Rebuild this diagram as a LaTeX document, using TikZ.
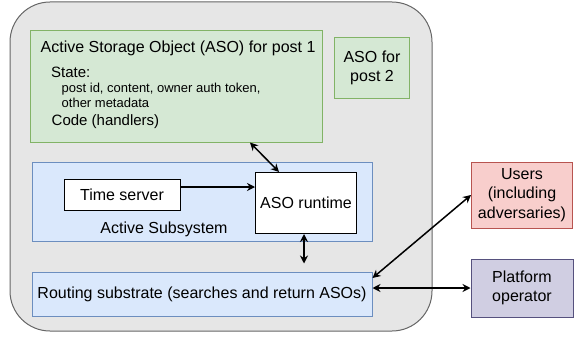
\documentclass[tikz,border=0pt]{standalone}
\usepackage{fontspec}
\setmainfont{Liberation Sans}
\usetikzlibrary{arrows.meta,calc}
\definecolor{outerfill}{HTML}{E6E6E6}
\definecolor{outerdraw}{HTML}{666666}
\definecolor{greenfill}{HTML}{D5E8D4}
\definecolor{greendraw}{HTML}{82B366}
\definecolor{bluefill}{HTML}{DAE8FC}
\definecolor{bluedraw}{HTML}{6C8EBF}
\definecolor{redfill}{HTML}{F8CECC}
\definecolor{reddraw}{HTML}{B85450}
\definecolor{purplefill}{HTML}{D0CEE2}
\definecolor{purpledraw}{HTML}{56517E}
\begin{document}
\begin{tikzpicture}[x=1pt,y=-1pt,
  box/.style={draw, rectangle, line width=1pt, inner sep=0pt, align=center,
    font=\fontsize{16}{19.5}\selectfont},
  greenbox/.style={box, fill=greenfill, draw=greendraw},
  bluebox/.style={box, fill=bluefill, draw=bluedraw},
  whitebox/.style={box, fill=white, draw=black},
  redbox/.style={box, fill=redfill, draw=reddraw},
  purplebox/.style={box, fill=purplefill, draw=purpledraw},
  label16/.style={inner sep=0pt, anchor=west, font=\fontsize{16}{19.5}\selectfont},
  label13/.style={inner sep=0pt, anchor=west, align=left, font=\fontsize{13}{15}\selectfont},
  conn/.style={line width=1.5pt, {Stealth[length=8pt,width=8pt]}-{Stealth[length=8pt,width=8pt]}},
  oneway/.style={line width=1.5pt, -{Stealth[length=8pt,width=8pt]}}
]
\useasboundingbox (0,0) rectangle (575,337);

% outer container
\node[draw=outerdraw, fill=outerfill, line width=1pt, rectangle, rounded corners=40pt,
  minimum width=422pt, minimum height=329pt, inner sep=0pt] (outer) at (221,166.5) {};

% ASO for post 1
\node[greenbox, minimum width=292pt, minimum height=111pt] (aso1) at (176,86.5) {};
\node[label16] (asotitle) at (40.5,48) {Active Storage Object (ASO) for post 1};
\node[label16, font=\fontsize{15}{18}\selectfont] (state) at (51,72) {State:};
\node[label13] (statetext) at (61.5,95.5) {post id, content, owner auth token,\\other metadata};
\node[label16, font=\fontsize{15}{18}\selectfont] (code) at (51.5,122) {Code (handlers)};

% ASO for post 2
\node[greenbox, minimum width=75pt, minimum height=60pt] (aso2) at (372,68) {ASO for\\post 2};

% Active subsystem
\node[bluebox, minimum width=340pt, minimum height=79pt] (active) at (202,201.5) {};
\node[label16, anchor=center] (activelabel) at (164,229) {Active Subsystem};
\node[whitebox, minimum width=116pt, minimum height=31pt] (time) at (122,195) {Time server};
\node[whitebox, minimum width=101pt, minimum height=61pt] (runtime) at (306,203) {ASO runtime};

% Routing substrate
\node[bluebox, minimum width=340pt, minimum height=44pt] (routing) at (202,294) {Routing substrate (searches and return ASOs)};

% external actors
\node[redbox, minimum width=101pt, minimum height=66pt] (users) at (522,195) {Users\\(including\\adversaries)};
\node[purplebox, minimum width=102pt, minimum height=58pt] (platform) at (522,288) {Platform\\operator};

% connectors
\draw[conn] ([xshift=74pt]aso1.south) -- ([xshift=-27pt]runtime.north);
\coordinate (ts) at ([yshift=8pt]time.east);
\draw[oneway] (ts) -- (ts -| runtime.west);
\coordinate (rtb) at ([xshift=-2pt]runtime.south);
\draw[conn, shorten >=8pt] (rtb) -- (rtb |- routing.north);
\draw[conn] ([yshift=16pt]routing.east) -- (users.west);
\draw[conn] (platform.west) -- (platform.west -| routing.east);
\end{tikzpicture}
\end{document}
